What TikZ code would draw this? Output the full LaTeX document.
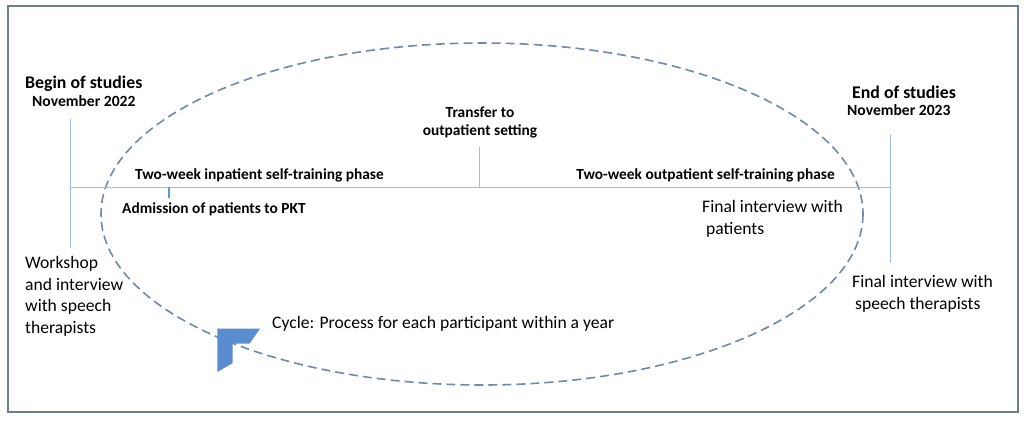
\documentclass[tikz,border=0pt]{standalone}
\usepackage{fontspec}
\setmainfont{Carlito}
\begin{document}
\begin{tikzpicture}[x=1pt,y=-1pt,
  frame/.style={draw=framec,line width=2pt},
  cyc/.style={draw=ellc,line width=1.6pt,dash pattern=on 9pt off 5pt},
  tl/.style={draw=linec,line width=1pt},
  big/.style={font=\bfseries\fontsize{17.8}{20}\selectfont,inner sep=0pt},
  date/.style={font=\bfseries\fontsize{15.6}{18}\selectfont,inner sep=0pt},
  lab/.style={font=\bfseries\fontsize{15.4}{18}\selectfont,inner sep=0pt},
  txt/.style={font=\fontsize{17.6}{21.7}\selectfont,inner sep=0pt,align=left}]
\definecolor{framec}{HTML}{6E7F95}
\definecolor{ellc}{HTML}{6F89AD}
\definecolor{linec}{HTML}{9DC0E3}
\definecolor{tickc}{HTML}{5B9BD5}
\definecolor{arrc}{HTML}{5A8DCF}
\useasboundingbox (0,0) rectangle (1024,420);
\fill[white] (0,0) rectangle (1024,420);
\draw[frame] (8,6) rectangle (1018,412);
% cycle ellipse
\draw[cyc] (482,214) ellipse [x radius=381, y radius=171];
% arrowhead
\fill[arrc] (217.3,328.7) -- (260,328.7) -- (249.5,343.7) -- (232.7,343.7) -- (232.7,363) -- (217.3,372) -- cycle;
% timeline
\coordinate (ls) at (70,187);
\coordinate (le) at (890,187);
\coordinate (lt) at (70,119);
\coordinate (lb) at (70,248);
\coordinate (rt) at (890,135);
\coordinate (rb) at (890,263);
\coordinate (mt) at (479,147);
\coordinate (mb) at (479,187);
\coordinate (at) at (169,187);
\coordinate (ab) at (169,198);
\draw[tl] (ls) -- (le);
\draw[tl] (lt) -- (lb);
\draw[tl] (rt) -- (rb);
\draw[tl] (mt) -- (mb);
\draw[draw=tickc,line width=2pt] (at) -- (ab);
% texts
\node[big,anchor=mid west] (bs) at (25,86) {Begin of studies};
\node[date,anchor=mid west] (bd) at (32,104) {November 2022};
\node[big,anchor=mid west] (es) at (852,96) {End of studies};
\node[date,anchor=mid west] (ed) at (847,113) {November 2023};
\node[lab,anchor=mid] (tr1) at (480,115) {Transfer to};
\node[lab,anchor=mid] (tr2) at (480,133) {outpatient setting};
\node[lab,anchor=mid west] (inp) at (135,177) {Two-week inpatient self-training phase};
\node[lab,anchor=mid east] (outp) at (835,177) {Two-week outpatient self-training phase};
\node[lab,anchor=mid west] (adm) at (122,211) {Admission of patients to PKT};
\node[txt,anchor=north west] (ws) at (25,256) {Workshop\\and interview\\with speech\\therapists};
\node[txt,anchor=north west] (fp) at (702,200) {Final interview with\\\hspace*{4pt}patients};
\node[txt,anchor=north west] (fs) at (852,275) {Final interview with\\\hspace*{3pt}speech therapists};
\node[txt,anchor=mid west] (cy) at (272,326) {Cycle: Process for each participant within a year};
\end{tikzpicture}
\end{document}
